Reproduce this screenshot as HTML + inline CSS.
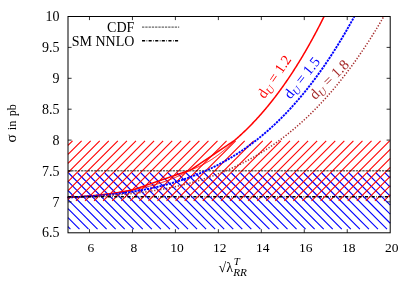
<!DOCTYPE html>
<html><head><meta charset="utf-8"><title>plot</title>
<style>
html,body{margin:0;padding:0;background:#fff;}
svg{display:block;}
text{font-family:"Liberation Serif",serif;font-size:14px;fill:#000;}
</style></head><body>
<svg width="415" height="291" viewBox="0 0 415 291">
<rect width="415" height="291" fill="#fff"/>
<!-- hatches -->
<path d="M68.00,226.67 L70.43,229.10 M68.00,217.62 L79.47,229.10 M68.00,208.58 L88.52,229.10 M68.00,199.53 L97.56,229.10 M68.00,190.49 L106.61,229.10 M68.00,181.44 L115.65,229.10 M68.60,173.00 L124.70,229.10 M77.64,173.00 L133.75,229.10 M86.69,173.00 L142.79,229.10 M95.73,173.00 L151.83,229.10 M104.78,173.00 L160.88,229.10 M113.82,173.00 L169.92,229.10 M122.87,173.00 L178.97,229.10 M131.91,173.00 L188.01,229.10 M140.96,173.00 L197.06,229.10 M150.00,173.00 L206.10,229.10 M159.05,173.00 L215.15,229.10 M168.09,173.00 L224.19,229.10 M177.14,173.00 L233.24,229.10 M186.19,173.00 L242.28,229.10 M195.23,173.00 L251.33,229.10 M204.28,173.00 L260.38,229.10 M213.32,173.00 L269.42,229.10 M222.36,173.00 L278.46,229.10 M231.41,173.00 L287.51,229.10 M240.45,173.00 L296.55,229.10 M249.50,173.00 L305.60,229.10 M258.54,173.00 L314.64,229.10 M267.59,173.00 L323.69,229.10 M276.63,173.00 L332.74,229.10 M285.68,173.00 L341.78,229.10 M294.73,173.00 L350.82,229.10 M303.77,173.00 L359.87,229.10 M312.81,173.00 L368.91,229.10 M321.86,173.00 L377.96,229.10 M330.90,173.00 L387.00,229.10 M339.95,173.00 L390.20,223.25 M349.00,173.00 L390.20,214.21 M358.04,173.00 L390.20,205.16 M367.09,173.00 L390.20,196.11 M376.13,173.00 L390.20,187.07 M385.17,173.00 L390.20,178.03" stroke="#0000ff" stroke-width="1.1" fill="none"/>
<path d="M68.00,145.34 L72.54,140.80 M68.00,154.40 L81.60,140.80 M68.00,163.46 L90.66,140.80 M68.00,172.52 L99.72,140.80 M68.00,181.58 L108.78,140.80 M68.00,190.64 L117.84,140.80 M68.00,199.70 L126.90,140.80 M75.96,200.80 L135.96,140.80 M85.02,200.80 L145.02,140.80 M94.08,200.80 L154.08,140.80 M103.14,200.80 L163.14,140.80 M112.20,200.80 L172.20,140.80 M121.26,200.80 L181.26,140.80 M130.32,200.80 L190.32,140.80 M139.38,200.80 L199.38,140.80 M148.44,200.80 L208.44,140.80 M157.50,200.80 L217.50,140.80 M166.56,200.80 L226.56,140.80 M175.62,200.80 L235.62,140.80 M184.68,200.80 L244.68,140.80 M193.74,200.80 L253.74,140.80 M202.80,200.80 L262.80,140.80 M211.86,200.80 L271.86,140.80 M220.92,200.80 L280.92,140.80 M229.98,200.80 L289.98,140.80 M239.04,200.80 L299.04,140.80 M248.10,200.80 L308.10,140.80 M257.16,200.80 L317.16,140.80 M266.22,200.80 L326.22,140.80 M275.28,200.80 L335.28,140.80 M284.34,200.80 L344.34,140.80 M293.40,200.80 L353.40,140.80 M302.46,200.80 L362.46,140.80 M311.52,200.80 L371.52,140.80 M320.58,200.80 L380.58,140.80 M329.64,200.80 L389.64,140.80 M338.70,200.80 L390.20,149.30 M347.76,200.80 L390.20,158.36 M356.82,200.80 L390.20,167.42 M365.88,200.80 L390.20,176.48 M374.94,200.80 L390.20,185.54 M384.00,200.80 L390.20,194.60" stroke="#ff0000" stroke-width="1.1" fill="none"/>
<!-- reference lines -->
<path d="M68.0,170.7 H390.2" stroke="#000" stroke-width="1.4" stroke-dasharray="2.35,0.92" opacity="0.6" fill="none"/>
<!-- curves -->
<path d="M67.50,197.38 L68.00,197.36 L68.50,197.34 L69.00,197.31 L69.50,197.29 L70.00,197.26 L70.50,197.24 L71.00,197.21 L71.50,197.18 L72.00,197.16 L72.50,197.13 L73.00,197.10 L73.50,197.07 L74.00,197.04 L74.50,197.02 L75.00,196.99 L75.50,196.96 L76.00,196.93 L76.50,196.90 L77.00,196.87 L77.50,196.84 L78.00,196.80 L78.50,196.77 L79.00,196.74 L79.50,196.71 L80.00,196.67 L80.50,196.64 L81.00,196.60 L81.50,196.57 L82.00,196.54 L82.50,196.50 L83.00,196.46 L83.50,196.43 L84.00,196.39 L84.50,196.35 L85.00,196.31 L85.50,196.28 L86.00,196.24 L86.50,196.20 L87.00,196.16 L87.50,196.12 L88.00,196.08 L88.50,196.03 L89.00,195.99 L89.50,195.95 L90.00,195.91 L90.50,195.86 L91.00,195.82 L91.50,195.78 L92.00,195.73 L92.50,195.68 L93.00,195.64 L93.50,195.59 L94.00,195.54 L94.50,195.50 L95.00,195.45 L95.50,195.40 L96.00,195.35 L96.50,195.30 L97.00,195.25 L97.50,195.20 L98.00,195.15 L98.50,195.09 L99.00,195.04 L99.50,194.99 L100.00,194.93 L100.50,194.88 L101.00,194.82 L101.50,194.77 L102.00,194.71 L102.50,194.65 L103.00,194.59 L103.50,194.54 L104.00,194.48 L104.50,194.42 L105.00,194.36 L105.50,194.30 L106.00,194.23 L106.50,194.17 L107.00,194.11 L107.50,194.04 L108.00,193.98 L108.50,193.91 L109.00,193.85 L109.50,193.78 L110.00,193.71 L110.50,193.65 L111.00,193.58 L111.50,193.51 L112.00,193.44 L112.50,193.37 L113.00,193.30 L113.50,193.22 L114.00,193.15 L114.50,193.08 L115.00,193.00 L115.50,192.93 L116.00,192.85 L116.50,192.77 L117.00,192.70 L117.50,192.62 L118.00,192.54 L118.50,192.46 L119.00,192.38 L119.50,192.30 L120.00,192.22 L120.50,192.13 L121.00,192.05 L121.50,191.96 L122.00,191.88 L122.50,191.79 L123.00,191.71 L123.50,191.62 L124.00,191.53 L124.50,191.44 L125.00,191.35 L125.50,191.26 L126.00,191.17 L126.50,191.07 L127.00,190.98 L127.50,190.89 L128.00,190.79 L128.50,190.69 L129.00,190.60 L129.50,190.50 L130.00,190.40 L130.50,190.30 L131.00,190.20 L131.50,190.10 L132.00,189.99 L132.50,189.89 L133.00,189.78 L133.50,189.68 L134.00,189.59 L134.50,189.50 L135.00,189.41 L135.50,189.32 L136.00,189.22 L136.50,189.13 L137.00,189.03 L137.50,188.93 L138.00,188.83 L138.50,188.73 L139.00,188.63 L139.50,188.52 L140.00,188.42 L140.50,188.31 L141.00,188.21 L141.50,188.10 L142.00,187.99 L142.50,187.88 L143.00,187.77 L143.50,187.65 L144.00,187.54 L144.50,187.42 L145.00,187.30 L145.50,187.18 L146.00,187.06 L146.50,186.94 L147.00,186.82 L147.50,186.69 L148.00,186.57 L148.50,186.44 L149.00,186.31 L149.50,186.18 L150.00,186.05 L150.50,185.92 L151.00,185.79 L151.50,185.65 L152.00,185.51 L152.50,185.37 L153.00,185.23 L153.50,185.09 L154.00,184.95 L154.50,184.81 L155.00,184.66 L155.50,184.51 L156.00,184.36 L156.50,184.21 L157.00,184.06 L157.50,183.91 L158.00,183.75 L158.50,183.60 L159.00,183.44 L159.50,183.28 L160.00,183.12 L160.50,182.96 L161.00,182.79 L161.50,182.63 L162.00,182.46 L162.50,182.29 L163.00,182.12 L163.50,181.95 L164.00,181.78 L164.50,181.60 L165.00,181.42 L165.50,181.24 L166.00,181.06 L166.50,180.88 L167.00,180.70 L167.50,180.51 L168.00,180.33 L168.50,180.14 L169.00,179.95 L169.50,179.76 L170.00,179.56 L170.50,179.37 L171.00,179.17 L171.50,178.97 L172.00,178.77 L172.50,178.57 L173.00,178.36 L173.50,178.16 L174.00,177.95 L174.50,177.74 L175.00,177.53 L175.50,177.31 L176.00,177.10 L176.50,176.88 L177.00,176.66 L177.50,176.44 L178.00,176.22 L178.50,175.99 L179.00,175.77 L179.50,175.54 L180.00,175.31 L180.50,175.08 L181.00,174.85 L181.50,174.61 L182.00,174.37 L182.50,174.13 L183.00,173.89 L183.50,173.65 L184.00,173.40 L184.50,173.15 L185.00,172.91 L185.50,172.65 L186.00,172.40 L186.50,172.14 L187.00,171.89 L187.50,171.63 L188.00,171.37 L188.50,171.10 L189.00,170.84 L189.50,170.57 L190.00,170.30 L190.50,170.03 L191.00,169.81 L191.50,169.63 L192.00,169.44 L192.50,169.26 L193.00,169.06 L193.50,168.87 L194.00,168.67 L194.50,168.47 L195.00,168.26 L195.50,168.06 L196.00,167.84 L196.50,167.63 L197.00,167.41 L197.50,167.19 L198.00,166.96 L198.50,166.74 L199.00,166.50 L199.50,166.27 L200.00,166.03 L200.50,165.79 L201.00,165.54 L201.50,165.30 L202.00,165.04 L202.50,164.79 L203.00,164.53 L203.50,164.26 L204.00,164.00 L204.50,163.73 L205.00,163.46 L205.50,163.18 L206.00,162.90 L206.50,162.61 L207.00,162.32 L207.50,162.03 L208.00,161.74 L208.50,161.44 L209.00,161.14 L209.50,160.83 L210.00,160.52 L210.50,160.21 L211.00,159.89 L211.50,159.57 L212.00,159.24 L212.50,158.91 L213.00,158.58 L213.50,158.24 L214.00,157.90 L214.50,157.56 L215.00,157.21 L215.50,156.86 L216.00,156.50 L216.50,156.15 L217.00,155.78 L217.50,155.41 L218.00,155.04 L218.50,154.67 L219.00,154.29 L219.50,153.90 L220.00,153.52 L220.50,153.12 L221.00,152.73 L221.50,152.33 L222.00,151.93 L222.50,151.52 L223.00,151.11 L223.50,150.69 L224.00,150.27 L224.50,149.84 L225.00,149.42 L225.50,148.98 L226.00,148.55 L226.50,148.11 L227.00,147.66 L227.50,147.21 L228.00,146.76 L228.50,146.30 L229.00,145.83 L229.50,145.37 L230.00,144.90 L230.50,144.42 L231.00,143.94 L231.50,143.46 L232.00,142.97 L232.50,142.47 L233.00,141.98 L233.50,141.47 L234.00,140.97 L234.50,140.46" stroke="#ff0000" stroke-width="1.0" fill="none"/>
<path d="M67.50,197.38 L68.00,197.36 L68.50,197.34 L69.00,197.31 L69.50,197.29 L70.00,197.26 L70.50,197.24 L71.00,197.21 L71.50,197.18 L72.00,197.16 L72.50,197.13 L73.00,197.10 L73.50,197.07 L74.00,197.04 L74.50,197.02 L75.00,196.99 L75.50,196.96 L76.00,196.93 L76.50,196.90 L77.00,196.87 L77.50,196.84 L78.00,196.80 L78.50,196.77 L79.00,196.74 L79.50,196.71 L80.00,196.67 L80.50,196.64 L81.00,196.60 L81.50,196.57 L82.00,196.54 L82.50,196.50 L83.00,196.46 L83.50,196.43 L84.00,196.39 L84.50,196.35 L85.00,196.31 L85.50,196.28 L86.00,196.24 L86.50,196.20 L87.00,196.16 L87.50,196.12 L88.00,196.08 L88.50,196.03 L89.00,195.99 L89.50,195.95 L90.00,195.91 L90.50,195.86 L91.00,195.82 L91.50,195.78 L92.00,195.73 L92.50,195.68 L93.00,195.64 L93.50,195.59 L94.00,195.54 L94.50,195.50 L95.00,195.45 L95.50,195.40 L96.00,195.35 L96.50,195.30 L97.00,195.25 L97.50,195.20 L98.00,195.15 L98.50,195.09 L99.00,195.04 L99.50,194.99 L100.00,194.93 L100.50,194.88 L101.00,194.82 L101.50,194.77 L102.00,194.71 L102.50,194.65 L103.00,194.59 L103.50,194.54 L104.00,194.48 L104.50,194.42 L105.00,194.36 L105.50,194.30 L106.00,194.23 L106.50,194.17 L107.00,194.11 L107.50,194.04 L108.00,193.98 L108.50,193.91 L109.00,193.85 L109.50,193.78 L110.00,193.71 L110.50,193.65 L111.00,193.58 L111.50,193.51 L112.00,193.44 L112.50,193.37 L113.00,193.30 L113.50,193.22 L114.00,193.15 L114.50,193.08 L115.00,193.00 L115.50,192.93 L116.00,192.85 L116.50,192.77 L117.00,192.70 L117.50,192.62 L118.00,192.54 L118.50,192.46 L119.00,192.38 L119.50,192.30 L120.00,192.22 L120.50,192.13 L121.00,192.05 L121.50,191.96 L122.00,191.88 L122.50,191.79 L123.00,191.71 L123.50,191.62 L124.00,191.53 L124.50,191.44 L125.00,191.35 L125.50,191.26 L126.00,191.17 L126.50,191.07 L127.00,190.98 L127.50,190.89 L128.00,190.79 L128.50,190.69 L129.00,190.60 L129.50,190.50 L130.00,190.40 L130.50,190.30 L131.00,190.20 L131.50,190.10 L132.00,189.99 L132.50,189.89 L133.00,189.78 L133.50,189.67 L134.00,189.49 L134.50,189.32 L135.00,189.15 L135.50,188.98 L136.00,188.80 L136.50,188.63 L137.00,188.46 L137.50,188.29 L138.00,188.11 L138.50,187.94 L139.00,187.77 L139.50,187.59 L140.00,187.42 L140.50,187.25 L141.00,187.08 L141.50,186.90 L142.00,186.73 L142.50,186.56 L143.00,186.39 L143.50,186.21 L144.00,186.04 L144.50,185.87 L145.00,185.70 L145.50,185.52 L146.00,185.35 L146.50,185.18 L147.00,185.01 L147.50,184.83 L148.00,184.66 L148.50,184.49 L149.00,184.32 L149.50,184.14 L150.00,183.97 L150.50,183.80 L151.00,183.62 L151.50,183.45 L152.00,183.28 L152.50,183.11 L153.00,182.93 L153.50,182.76 L154.00,182.59 L154.50,182.42 L155.00,182.24 L155.50,182.07 L156.00,181.90 L156.50,181.73 L157.00,181.55 L157.50,181.38 L158.00,181.21 L158.50,181.04 L159.00,180.86 L159.50,180.69 L160.00,180.52 L160.50,180.35 L161.00,180.17 L161.50,180.00 L162.00,179.83 L162.50,179.65 L163.00,179.48 L163.50,179.31 L164.00,179.14 L164.50,178.96 L165.00,178.79 L165.50,178.62 L166.00,178.45 L166.50,178.27 L167.00,178.10 L167.50,177.93 L168.00,177.76 L168.50,177.58 L169.00,177.41 L169.50,177.24 L170.00,177.07 L170.50,176.89 L171.00,176.72 L171.50,176.55 L172.00,176.38 L172.50,176.20 L173.00,176.03 L173.50,175.86 L174.00,175.68 L174.50,175.51 L175.00,175.34 L175.50,175.17 L176.00,174.99 L176.50,174.82 L177.00,174.65 L177.50,174.48 L178.00,174.30 L178.50,174.13 L179.00,173.96 L179.50,173.79 L180.00,173.61 L180.50,173.44 L181.00,173.27 L181.50,173.10 L182.00,172.92 L182.50,172.75 L183.00,172.58 L183.50,172.41 L184.00,172.23 L184.50,172.06 L185.00,171.89 L185.50,171.71 L186.00,171.54 L186.50,171.37 L187.00,171.20 L187.50,171.02 L188.00,170.85 L188.50,170.68 L189.00,170.51 L189.50,170.33 L190.00,170.16 L190.50,169.99 L191.00,169.72 L191.50,169.38 L192.00,169.05 L192.50,168.71 L193.00,168.37 L193.50,168.04 L194.00,167.70 L194.50,167.36 L195.00,167.03 L195.50,166.69 L196.00,166.35 L196.50,166.02 L197.00,165.68 L197.50,165.35 L198.00,165.01 L198.50,164.67 L199.00,164.34 L199.50,164.00 L200.00,163.66 L200.50,163.33 L201.00,162.99 L201.50,162.65 L202.00,162.32 L202.50,161.98 L203.00,161.65 L203.50,161.31 L204.00,160.97 L204.50,160.64 L205.00,160.30 L205.50,159.96 L206.00,159.63 L206.50,159.29 L207.00,158.96 L207.50,158.62 L208.00,158.28 L208.50,157.95 L209.00,157.61 L209.50,157.27 L210.00,156.94 L210.50,156.60 L211.00,156.26 L211.50,155.93 L212.00,155.59 L212.50,155.26 L213.00,154.92 L213.50,154.58 L214.00,154.25 L214.50,153.91 L215.00,153.57 L215.50,153.24 L216.00,152.90 L216.50,152.57 L217.00,152.23 L217.50,151.89 L218.00,151.56 L218.50,151.22 L219.00,150.88 L219.50,150.55 L220.00,150.21 L220.50,149.87 L221.00,149.54 L221.50,149.20 L222.00,148.87 L222.50,148.53 L223.00,148.19 L223.50,147.86 L224.00,147.52 L224.50,147.18 L225.00,146.85 L225.50,146.51 L226.00,146.17 L226.50,145.84 L227.00,145.50 L227.50,145.17 L228.00,144.83 L228.50,144.49 L229.00,144.16 L229.50,143.82 L230.00,143.48 L230.50,143.15 L231.00,142.81 L231.50,142.48 L232.00,142.14 L232.50,141.80 L233.00,141.47 L233.50,141.13 L234.00,140.79 L234.50,140.46 L235.00,140.03 L235.50,139.59 L236.00,139.16 L236.50,138.72 L237.00,138.28 L237.50,137.84 L238.00,137.39 L238.50,136.94 L239.00,136.49 L239.50,136.04 L240.00,135.59 L240.50,135.13 L241.00,134.67 L241.50,134.21 L242.00,133.74 L242.50,133.28 L243.00,132.81 L243.50,132.33 L244.00,131.86 L244.50,131.38 L245.00,130.90 L245.50,130.42 L246.00,129.93 L246.50,129.45 L247.00,128.96 L247.50,128.46 L248.00,127.97 L248.50,127.47 L249.00,126.97 L249.50,126.47 L250.00,125.96 L250.50,125.45 L251.00,124.94 L251.50,124.43 L252.00,123.91 L252.50,123.39 L253.00,122.87 L253.50,122.34 L254.00,121.82 L254.50,121.29 L255.00,120.75 L255.50,120.22 L256.00,119.68 L256.50,119.14 L257.00,118.60 L257.50,118.05 L258.00,117.50 L258.50,116.95 L259.00,116.39 L259.50,115.84 L260.00,115.27 L260.50,114.71 L261.00,114.14 L261.50,113.58 L262.00,113.00 L262.50,112.43 L263.00,111.85 L263.50,111.27 L264.00,110.69 L264.50,110.10 L265.00,109.51 L265.50,108.92 L266.00,108.32 L266.50,107.73 L267.00,107.12 L267.50,106.52 L268.00,105.91 L268.50,105.30 L269.00,104.69 L269.50,104.07 L270.00,103.46 L270.50,102.83 L271.00,102.21 L271.50,101.58 L272.00,100.95 L272.50,100.31 L273.00,99.68 L273.50,99.04 L274.00,98.39 L274.50,97.75 L275.00,97.10 L275.50,96.44 L276.00,95.79 L276.50,95.13 L277.00,94.47 L277.50,93.80 L278.00,93.13 L278.50,92.46 L279.00,91.78 L279.50,91.11 L280.00,90.43 L280.50,89.74 L281.00,89.05 L281.50,88.36 L282.00,87.67 L282.50,86.97 L283.00,86.27 L283.50,85.56 L284.00,84.86 L284.50,84.15 L285.00,83.43 L285.50,82.71 L286.00,81.99 L286.50,81.27 L287.00,80.54 L287.50,79.81 L288.00,79.08 L288.50,78.34 L289.00,77.60 L289.50,76.85 L290.00,76.11 L290.50,75.35 L291.00,74.60 L291.50,73.84 L292.00,73.08 L292.50,72.31 L293.00,71.55 L293.50,70.77 L294.00,70.00 L294.50,69.22 L295.00,68.44 L295.50,67.65 L296.00,66.86 L296.50,66.07 L297.00,65.27 L297.50,64.47 L298.00,63.67 L298.50,62.86 L299.00,62.05 L299.50,61.23 L300.00,60.41 L300.50,59.59 L301.00,58.77 L301.50,57.94 L302.00,57.10 L302.50,56.27 L303.00,55.43 L303.50,54.58 L304.00,53.73 L304.50,52.88 L305.00,52.03 L305.50,51.17 L306.00,50.30 L306.50,49.44 L307.00,48.57 L307.50,47.69 L308.00,46.81 L308.50,45.93 L309.00,45.05 L309.50,44.16 L310.00,43.26 L310.50,42.37 L311.00,41.47 L311.50,40.56 L312.00,39.65 L312.50,38.74 L313.00,37.82 L313.50,36.90 L314.00,35.98 L314.50,35.05 L315.00,34.12 L315.50,33.18 L316.00,32.24 L316.50,31.29 L317.00,30.35 L317.50,29.39 L318.00,28.44 L318.50,27.48 L319.00,26.51 L319.50,25.54 L320.00,24.57 L320.50,23.59 L321.00,22.61 L321.50,21.63 L322.00,20.64 L322.50,19.65 L323.00,18.65 L323.50,17.65 L324.00,16.64 L324.07,16.50" stroke="#ff0000" stroke-width="1.5" fill="none"/>
<path d="M67.50,197.43 L68.04,197.41 L68.58,197.39 L69.12,197.37 L69.65,197.35 L70.19,197.33 L70.73,197.30 L71.27,197.28 L71.81,197.26 L72.34,197.23 L72.88,197.21 L73.42,197.19 L73.96,197.16 L74.50,197.14 L75.04,197.11 L75.58,197.08 L76.11,197.06 L76.65,197.03 L77.19,197.01 L77.73,196.98 L78.27,196.95 L78.81,196.92 L79.34,196.90 L79.88,196.87 L80.42,196.84 L80.96,196.81 L81.50,196.78 L82.03,196.75 L82.57,196.72 L83.11,196.69 L83.65,196.66 L84.19,196.63 L84.73,196.59 L85.27,196.56 L85.80,196.53 L86.34,196.49 L86.88,196.46 L87.42,196.43 L87.96,196.39 L88.49,196.36 L89.03,196.32 L89.57,196.29 L90.11,196.25 L90.65,196.21 L91.19,196.18 L91.72,196.14 L92.26,196.10 L92.80,196.06 L93.34,196.02 L93.88,195.98 L94.42,195.94 L94.96,195.90 L95.49,195.86 L96.03,195.82 L96.57,195.78 L97.11,195.74 L97.65,195.69 L98.19,195.65 L98.72,195.61 L99.26,195.56 L99.80,195.52 L100.34,195.47 L100.88,195.43 L101.42,195.38 L101.95,195.33 L102.49,195.28 L103.03,195.24 L103.57,195.19 L104.11,195.14 L104.64,195.09 L105.18,195.04 L105.72,194.99 L106.26,194.94 L106.80,194.89 L107.34,194.83 L107.88,194.78 L108.41,194.73 L108.95,194.67 L109.49,194.62 L110.03,194.56 L110.57,194.51 L111.11,194.45 L111.64,194.39 L112.18,194.34 L112.72,194.28 L113.26,194.22 L113.80,194.16 L114.34,194.10 L114.87,194.04 L115.41,193.98 L115.95,193.91 L116.49,193.85 L117.03,193.79 L117.56,193.72 L118.10,193.66 L118.64,193.59 L119.18,193.53 L119.72,193.46 L120.26,193.40 L120.79,193.33 L121.33,193.26 L121.87,193.19 L122.41,193.12 L122.95,193.05 L123.49,192.98 L124.03,192.91 L124.56,192.83 L125.10,192.76 L125.64,192.68 L126.18,192.61 L126.72,192.53 L127.26,192.46 L127.79,192.38 L128.33,192.30 L128.87,192.22 L129.41,192.15 L129.95,192.07 L130.49,191.98 L131.02,191.90 L131.56,191.82 L132.10,191.74 L132.64,191.65 L133.18,191.57 L133.71,191.48 L134.25,191.40 L134.79,191.31 L135.33,191.22 L135.87,191.13 L136.41,191.04 L136.94,190.95 L137.48,190.86 L138.02,190.77 L138.56,190.68 L139.10,190.58 L139.64,190.49 L140.18,190.40 L140.71,190.30 L141.25,190.20 L141.79,190.10 L142.33,190.01 L142.87,189.91 L143.41,189.81 L143.94,189.70 L144.48,189.60 L145.02,189.50 L145.56,189.40 L146.10,189.29 L146.64,189.18 L147.17,189.08 L147.71,188.97 L148.25,188.86 L148.79,188.75 L149.33,188.64 L149.86,188.53 L150.40,188.42 L150.94,188.30 L151.48,188.19 L152.02,188.08 L152.56,187.96 L153.09,187.84 L153.63,187.72 L154.17,187.61 L154.71,187.49 L155.25,187.36 L155.79,187.24 L156.32,187.12 L156.86,187.00 L157.40,186.87 L157.94,186.74 L158.48,186.62 L159.02,186.49 L159.56,186.36 L160.09,186.23 L160.63,186.10 L161.17,185.97 L161.71,185.83 L162.25,185.70 L162.79,185.56 L163.32,185.43 L163.86,185.29 L164.40,185.15 L164.94,185.01 L165.48,184.87 L166.01,184.73 L166.55,184.59 L167.09,184.44 L167.63,184.30 L168.17,184.15 L168.71,184.00 L169.25,183.85 L169.78,183.70 L170.32,183.55 L170.86,183.40 L171.40,183.25 L171.94,183.09 L172.48,182.94 L173.01,182.78 L173.55,182.62 L174.09,182.46 L174.63,182.30 L175.17,182.14 L175.71,181.98 L176.24,181.81 L176.78,181.65 L177.32,181.48 L177.86,181.31 L178.40,181.15 L178.94,180.97 L179.47,180.80 L180.01,180.63 L180.55,180.46 L181.09,180.28 L181.63,180.10 L182.16,179.93 L182.70,179.75 L183.24,179.57 L183.78,179.39 L184.32,179.20 L184.86,179.02 L185.40,178.83 L185.93,178.65 L186.47,178.46 L187.01,178.27 L187.55,178.08 L188.09,177.88 L188.62,177.69 L189.16,177.50 L189.70,177.30 L190.24,177.10 L190.78,176.90 L191.32,176.70 L191.86,176.50 L192.39,176.30 L192.93,176.09 L193.47,175.89 L194.01,175.68 L194.55,175.47 L195.09,175.26 L195.62,175.05 L196.16,174.83 L196.70,174.62 L197.24,174.40 L197.78,174.18 L198.31,173.97 L198.85,173.74 L199.39,173.52 L199.93,173.30 L200.47,173.07 L201.01,172.85 L201.55,172.62 L202.08,172.39 L202.62,172.16 L203.16,171.92 L203.70,171.69 L204.24,171.45 L204.78,171.22 L205.31,170.98 L205.85,170.74 L206.39,170.49 L206.93,170.25 L207.47,170.01 L208.00,169.76 L208.54,169.51 L209.08,169.26 L209.62,169.01 L210.16,168.75 L210.70,168.50 L211.24,168.24 L211.77,167.98 L212.31,167.72 L212.85,167.46 L213.39,167.20 L213.93,166.93 L214.46,166.67 L215.00,166.40 L215.54,166.13 L216.08,165.86 L216.62,165.58 L217.16,165.31 L217.70,165.03 L218.23,164.75 L218.77,164.47 L219.31,164.19 L219.85,163.91 L220.39,163.62 L220.92,163.33 L221.46,163.04 L222.00,162.75 L222.54,162.46 L223.08,162.17 L223.62,161.87 L224.16,161.57 L224.69,161.27 L225.23,160.97 L225.77,160.67 L226.31,160.36 L226.85,160.05 L227.39,159.74 L227.92,159.43 L228.46,159.12 L229.00,158.81 L229.54,158.49 L230.08,158.17 L230.62,157.85 L231.15,157.53 L231.69,157.20 L232.23,156.88 L232.77,156.55 L233.31,156.22 L233.85,155.89 L234.38,155.55 L234.92,155.22 L235.46,154.88 L236.00,154.54 L236.54,154.20 L237.08,153.85 L237.61,153.51 L238.15,153.16 L238.69,152.81 L239.23,152.46 L239.77,152.10 L240.31,151.75 L240.84,151.39 L241.38,151.03 L241.92,150.67 L242.46,150.30 L243.00,149.94 L243.54,149.57 L244.07,149.20 L244.61,148.82 L245.15,148.45 L245.69,148.07 L246.23,147.69 L246.77,147.31 L247.30,146.93 L247.84,146.54 L248.38,146.16 L248.92,145.77 L249.46,145.37 L249.99,144.98 L250.53,144.58 L251.07,144.18 L251.61,143.78 L252.15,143.38 L252.69,142.98 L253.22,142.57 L253.76,142.16 L254.30,141.75 L254.84,141.33 L255.38,140.92 L255.92,140.50 L256.46,140.08 L256.99,139.65 L257.53,139.23 L258.07,138.80 L258.61,138.37 L259.15,137.94 L259.69,137.50 L260.22,137.06 L260.76,136.63 L261.30,136.18 L261.84,135.74 L262.38,135.29 L262.92,134.84 L263.45,134.39 L263.99,133.94 L264.53,133.48 L265.07,133.02 L265.61,132.56 L266.14,132.10 L266.68,131.63 L267.22,131.16 L267.76,130.69 L268.30,130.22 L268.84,129.74 L269.38,129.27 L269.91,128.78 L270.45,128.30 L270.99,127.82 L271.53,127.33 L272.07,126.84 L272.61,126.34 L273.14,125.85 L273.68,125.35 L274.22,124.85 L274.76,124.34 L275.30,123.84 L275.84,123.33 L276.37,122.82 L276.91,122.30 L277.45,121.79 L277.99,121.27 L278.53,120.75 L279.06,120.22 L279.60,119.69 L280.14,119.16 L280.68,118.63 L281.22,118.10 L281.76,117.56 L282.30,117.02 L282.83,116.47 L283.37,115.93 L283.91,115.38 L284.45,114.83 L284.99,114.27 L285.52,113.72 L286.06,113.16 L286.60,112.59 L287.14,112.03 L287.68,111.46 L288.22,110.89 L288.75,110.32 L289.29,109.74 L289.83,109.16 L290.37,108.58 L290.91,107.99 L291.45,107.41 L291.99,106.82 L292.52,106.22 L293.06,105.63 L293.60,105.03 L294.14,104.42 L294.68,103.82 L295.22,103.21 L295.75,102.60 L296.29,101.99 L296.83,101.37 L297.37,100.75 L297.91,100.13 L298.45,99.50 L298.98,98.87 L299.52,98.24 L300.06,97.60 L300.60,96.97 L301.14,96.33 L301.67,95.68 L302.21,95.04 L302.75,94.39 L303.29,93.73 L303.83,93.08 L304.37,92.42 L304.90,91.76 L305.44,91.09 L305.98,90.42 L306.52,89.75 L307.06,89.08 L307.60,88.40 L308.13,87.72 L308.67,87.03 L309.21,86.35 L309.75,85.65 L310.29,84.96 L310.83,84.26 L311.37,83.56 L311.90,82.86 L312.44,82.15 L312.98,81.44 L313.52,80.73 L314.06,80.02 L314.60,79.30 L315.13,78.57 L315.67,77.85 L316.21,77.12 L316.75,76.39 L317.29,75.65 L317.83,74.91 L318.36,74.17 L318.90,73.42 L319.44,72.67 L319.98,71.92 L320.52,71.16 L321.05,70.40 L321.59,69.64 L322.13,68.87 L322.67,68.10 L323.21,67.33 L323.75,66.56 L324.29,65.78 L324.82,64.99 L325.36,64.20 L325.90,63.41 L326.44,62.62 L326.98,61.82 L327.52,61.02 L328.05,60.22 L328.59,59.41 L329.13,58.60 L329.67,57.78 L330.21,56.96 L330.75,56.14 L331.28,55.32 L331.82,54.49 L332.36,53.65 L332.90,52.82 L333.44,51.98 L333.97,51.13 L334.51,50.29 L335.05,49.44 L335.59,48.58 L336.13,47.72 L336.67,46.86 L337.20,45.99 L337.74,45.13 L338.28,44.25 L338.82,43.38 L339.36,42.49 L339.90,41.61 L340.44,40.72 L340.97,39.83 L341.51,38.93 L342.05,38.03 L342.59,37.13 L343.13,36.22 L343.67,35.31 L344.20,34.40 L344.74,33.48 L345.28,32.56 L345.82,31.63 L346.36,30.70 L346.90,29.77 L347.43,28.83 L347.97,27.89 L348.51,26.94 L349.05,25.99 L349.59,25.04 L350.12,24.08 L350.66,23.12 L351.20,22.15 L351.74,21.18 L352.28,20.21 L352.82,19.23 L353.35,18.25 L353.89,17.26 L354.31,16.50" stroke="#0000ff" stroke-width="1.9" stroke-dasharray="2.25,0.95" fill="none"/>
<path d="M67.50,197.41 L68.04,197.40 L68.58,197.39 L69.12,197.37 L69.65,197.36 L70.19,197.35 L70.73,197.33 L71.27,197.32 L71.81,197.30 L72.34,197.29 L72.88,197.27 L73.42,197.26 L73.96,197.24 L74.50,197.23 L75.04,197.21 L75.58,197.20 L76.11,197.18 L76.65,197.16 L77.19,197.15 L77.73,197.13 L78.27,197.11 L78.81,197.09 L79.34,197.08 L79.88,197.06 L80.42,197.04 L80.96,197.02 L81.50,197.00 L82.03,196.98 L82.57,196.96 L83.11,196.94 L83.65,196.92 L84.19,196.90 L84.73,196.88 L85.27,196.86 L85.80,196.84 L86.34,196.82 L86.88,196.80 L87.42,196.77 L87.96,196.75 L88.49,196.73 L89.03,196.70 L89.57,196.68 L90.11,196.66 L90.65,196.63 L91.19,196.61 L91.72,196.58 L92.26,196.56 L92.80,196.53 L93.34,196.51 L93.88,196.48 L94.42,196.45 L94.96,196.43 L95.49,196.40 L96.03,196.37 L96.57,196.34 L97.11,196.32 L97.65,196.29 L98.19,196.26 L98.72,196.23 L99.26,196.20 L99.80,196.17 L100.34,196.14 L100.88,196.11 L101.42,196.08 L101.95,196.04 L102.49,196.01 L103.03,195.98 L103.57,195.95 L104.11,195.91 L104.64,195.88 L105.18,195.85 L105.72,195.81 L106.26,195.78 L106.80,195.74 L107.34,195.71 L107.88,195.67 L108.41,195.63 L108.95,195.60 L109.49,195.56 L110.03,195.52 L110.57,195.48 L111.11,195.44 L111.64,195.40 L112.18,195.37 L112.72,195.32 L113.26,195.28 L113.80,195.24 L114.34,195.20 L114.87,195.16 L115.41,195.12 L115.95,195.07 L116.49,195.03 L117.03,194.99 L117.56,194.94 L118.10,194.90 L118.64,194.85 L119.18,194.81 L119.72,194.76 L120.26,194.71 L120.79,194.67 L121.33,194.62 L121.87,194.57 L122.41,194.52 L122.95,194.47 L123.49,194.42 L124.03,194.37 L124.56,194.32 L125.10,194.27 L125.64,194.22 L126.18,194.17 L126.72,194.11 L127.26,194.06 L127.79,194.01 L128.33,193.95 L128.87,193.90 L129.41,193.84 L129.95,193.78 L130.49,193.73 L131.02,193.67 L131.56,193.61 L132.10,193.55 L132.64,193.49 L133.18,193.43 L133.71,193.37 L134.25,193.31 L134.79,193.25 L135.33,193.19 L135.87,193.13 L136.41,193.06 L136.94,193.00 L137.48,192.94 L138.02,192.87 L138.56,192.80 L139.10,192.74 L139.64,192.67 L140.18,192.60 L140.71,192.54 L141.25,192.47 L141.79,192.40 L142.33,192.33 L142.87,192.26 L143.41,192.18 L143.94,192.11 L144.48,192.04 L145.02,191.97 L145.56,191.89 L146.10,191.82 L146.64,191.74 L147.17,191.66 L147.71,191.59 L148.25,191.51 L148.79,191.43 L149.33,191.35 L149.86,191.27 L150.40,191.19 L150.94,191.11 L151.48,191.03 L152.02,190.95 L152.56,190.86 L153.09,190.78 L153.63,190.70 L154.17,190.61 L154.71,190.52 L155.25,190.44 L155.79,190.35 L156.32,190.26 L156.86,190.17 L157.40,190.08 L157.94,189.99 L158.48,189.90 L159.02,189.81 L159.56,189.71 L160.09,189.62 L160.63,189.52 L161.17,189.43 L161.71,189.33 L162.25,189.24 L162.79,189.14 L163.32,189.04 L163.86,188.94 L164.40,188.84 L164.94,188.74 L165.48,188.64 L166.01,188.53 L166.55,188.43 L167.09,188.33 L167.63,188.22 L168.17,188.11 L168.71,188.01 L169.25,187.90 L169.78,187.79 L170.32,187.68 L170.86,187.57 L171.40,187.46 L171.94,187.35 L172.48,187.23 L173.01,187.12 L173.55,187.00 L174.09,186.89 L174.63,186.77 L175.17,186.65 L175.71,186.54 L176.24,186.42 L176.78,186.30 L177.32,186.17 L177.86,186.05 L178.40,185.93 L178.94,185.81 L179.47,185.68 L180.01,185.55 L180.55,185.43 L181.09,185.30 L181.63,185.17 L182.16,185.04 L182.70,184.91 L183.24,184.78 L183.78,184.65 L184.32,184.51 L184.86,184.38 L185.40,184.24 L185.93,184.10 L186.47,183.97 L187.01,183.83 L187.55,183.69 L188.09,183.55 L188.62,183.41 L189.16,183.26 L189.70,183.12 L190.24,182.97 L190.78,182.83 L191.32,182.68 L191.86,182.53 L192.39,182.38 L192.93,182.23 L193.47,182.08 L194.01,181.93 L194.55,181.78 L195.09,181.62 L195.62,181.47 L196.16,181.31 L196.70,181.15 L197.24,180.99 L197.78,180.83 L198.31,180.67 L198.85,180.51 L199.39,180.34 L199.93,180.18 L200.47,180.01 L201.01,179.85 L201.55,179.68 L202.08,179.51 L202.62,179.34 L203.16,179.17 L203.70,179.00 L204.24,178.82 L204.78,178.65 L205.31,178.47 L205.85,178.29 L206.39,178.11 L206.93,177.93 L207.47,177.75 L208.00,177.57 L208.54,177.39 L209.08,177.20 L209.62,177.02 L210.16,176.83 L210.70,176.64 L211.24,176.45 L211.77,176.26 L212.31,176.07 L212.85,175.88 L213.39,175.68 L213.93,175.49 L214.46,175.29 L215.00,175.09 L215.54,174.89 L216.08,174.69 L216.62,174.49 L217.16,174.28 L217.70,174.08 L218.23,173.87 L218.77,173.66 L219.31,173.45 L219.85,173.24 L220.39,173.03 L220.92,172.82 L221.46,172.61 L222.00,172.39 L222.54,172.17 L223.08,171.95 L223.62,171.73 L224.16,171.51 L224.69,171.29 L225.23,171.07 L225.77,170.84 L226.31,170.62 L226.85,170.39 L227.39,170.16 L227.92,169.93 L228.46,169.69 L229.00,169.46 L229.54,169.23 L230.08,168.99 L230.62,168.75 L231.15,168.51 L231.69,168.27 L232.23,168.03 L232.77,167.78 L233.31,167.54 L233.85,167.29 L234.38,167.04 L234.92,166.79 L235.46,166.54 L236.00,166.29 L236.54,166.03 L237.08,165.78 L237.61,165.52 L238.15,165.26 L238.69,165.00 L239.23,164.74 L239.77,164.48 L240.31,164.21 L240.84,163.94 L241.38,163.68 L241.92,163.41 L242.46,163.13 L243.00,162.86 L243.54,162.59 L244.07,162.31 L244.61,162.03 L245.15,161.75 L245.69,161.47 L246.23,161.19 L246.77,160.91 L247.30,160.62 L247.84,160.33 L248.38,160.04 L248.92,159.75 L249.46,159.46 L249.99,159.17 L250.53,158.87 L251.07,158.57 L251.61,158.27 L252.15,157.97 L252.69,157.67 L253.22,157.37 L253.76,157.06 L254.30,156.75 L254.84,156.44 L255.38,156.13 L255.92,155.82 L256.46,155.50 L256.99,155.19 L257.53,154.87 L258.07,154.55 L258.61,154.23 L259.15,153.90 L259.69,153.58 L260.22,153.25 L260.76,152.92 L261.30,152.59 L261.84,152.26 L262.38,151.93 L262.92,151.59 L263.45,151.25 L263.99,150.91 L264.53,150.57 L265.07,150.23 L265.61,149.88 L266.14,149.54 L266.68,149.19 L267.22,148.84 L267.76,148.48 L268.30,148.13 L268.84,147.77 L269.38,147.42 L269.91,147.06 L270.45,146.69 L270.99,146.33 L271.53,145.96 L272.07,145.60 L272.61,145.23 L273.14,144.85 L273.68,144.48 L274.22,144.10 L274.76,143.73 L275.30,143.35 L275.84,142.97 L276.37,142.58 L276.91,142.20 L277.45,141.81 L277.99,141.42 L278.53,141.03 L279.06,140.63 L279.60,140.24 L280.14,139.84 L280.68,139.44 L281.22,139.04 L281.76,138.64 L282.30,138.23 L282.83,137.82 L283.37,137.41 L283.91,137.00 L284.45,136.59 L284.99,136.17 L285.52,135.75 L286.06,135.33 L286.60,134.91 L287.14,134.49 L287.68,134.06 L288.22,133.63 L288.75,133.20 L289.29,132.77 L289.83,132.33 L290.37,131.89 L290.91,131.45 L291.45,131.01 L291.99,130.57 L292.52,130.12 L293.06,129.67 L293.60,129.22 L294.14,128.77 L294.68,128.31 L295.22,127.86 L295.75,127.40 L296.29,126.94 L296.83,126.47 L297.37,126.01 L297.91,125.54 L298.45,125.07 L298.98,124.59 L299.52,124.12 L300.06,123.64 L300.60,123.16 L301.14,122.68 L301.67,122.19 L302.21,121.71 L302.75,121.22 L303.29,120.73 L303.83,120.23 L304.37,119.74 L304.90,119.24 L305.44,118.74 L305.98,118.23 L306.52,117.73 L307.06,117.22 L307.60,116.71 L308.13,116.19 L308.67,115.68 L309.21,115.16 L309.75,114.64 L310.29,114.12 L310.83,113.59 L311.37,113.07 L311.90,112.54 L312.44,112.00 L312.98,111.47 L313.52,110.93 L314.06,110.39 L314.60,109.85 L315.13,109.30 L315.67,108.76 L316.21,108.21 L316.75,107.65 L317.29,107.10 L317.83,106.54 L318.36,105.98 L318.90,105.42 L319.44,104.85 L319.98,104.29 L320.52,103.72 L321.05,103.14 L321.59,102.57 L322.13,101.99 L322.67,101.41 L323.21,100.83 L323.75,100.24 L324.29,99.65 L324.82,99.06 L325.36,98.47 L325.90,97.87 L326.44,97.27 L326.98,96.67 L327.52,96.06 L328.05,95.46 L328.59,94.85 L329.13,94.23 L329.67,93.62 L330.21,93.00 L330.75,92.38 L331.28,91.76 L331.82,91.13 L332.36,90.50 L332.90,89.87 L333.44,89.23 L333.97,88.60 L334.51,87.96 L335.05,87.31 L335.59,86.67 L336.13,86.02 L336.67,85.37 L337.20,84.71 L337.74,84.06 L338.28,83.40 L338.82,82.73 L339.36,82.07 L339.90,81.40 L340.44,80.73 L340.97,80.06 L341.51,79.38 L342.05,78.70 L342.59,78.02 L343.13,77.33 L343.67,76.64 L344.20,75.95 L344.74,75.25 L345.28,74.56 L345.82,73.86 L346.36,73.15 L346.90,72.45 L347.43,71.74 L347.97,71.02 L348.51,70.31 L349.05,69.59 L349.59,68.87 L350.12,68.14 L350.66,67.42 L351.20,66.69 L351.74,65.95 L352.28,65.22 L352.82,64.48 L353.35,63.73 L353.89,62.99 L354.43,62.24 L354.97,61.49 L355.51,60.73 L356.05,59.97 L356.58,59.21 L357.12,58.45 L357.66,57.68 L358.20,56.91 L358.74,56.14 L359.28,55.36 L359.82,54.58 L360.35,53.79 L360.89,53.01 L361.43,52.22 L361.97,51.42 L362.51,50.63 L363.05,49.83 L363.58,49.03 L364.12,48.22 L364.66,47.41 L365.20,46.60 L365.74,45.78 L366.28,44.96 L366.81,44.14 L367.35,43.32 L367.89,42.49 L368.43,41.65 L368.97,40.82 L369.50,39.98 L370.04,39.14 L370.58,38.29 L371.12,37.44 L371.66,36.59 L372.20,35.73 L372.74,34.87 L373.27,34.01 L373.81,33.15 L374.35,32.28 L374.89,31.40 L375.43,30.53 L375.97,29.65 L376.50,28.77 L377.04,27.88 L377.58,26.99 L378.12,26.09 L378.66,25.20 L379.20,24.30 L379.73,23.39 L380.27,22.49 L380.81,21.57 L381.35,20.66 L381.89,19.74 L382.43,18.82 L382.96,17.90 L383.50,16.97 L383.77,16.50" stroke="#a52a2a" stroke-width="1.5" stroke-dasharray="1.3,1.7" fill="none"/>
<path d="M68.0,196.7 H390.2" stroke="#000" stroke-width="1.6" stroke-dasharray="3.1,1.5,0.6,1.4" fill="none"/>
<!-- axes -->
<rect x="68.0" y="16.5" width="322.2" height="216.3" fill="none" stroke="#000" stroke-width="1"/>
<path d="M89.48,232.80 v-3.60 M89.48,16.50 v3.60 M132.44,232.80 v-3.60 M132.44,16.50 v3.60 M175.40,232.80 v-3.60 M175.40,16.50 v3.60 M218.36,232.80 v-3.60 M218.36,16.50 v3.60 M261.32,232.80 v-3.60 M261.32,16.50 v3.60 M304.28,232.80 v-3.60 M304.28,16.50 v3.60 M347.24,232.80 v-3.60 M347.24,16.50 v3.60 M68.00,201.90 h3.60 M390.20,201.90 h-3.60 M68.00,171.00 h3.60 M390.20,171.00 h-3.60 M68.00,140.10 h3.60 M390.20,140.10 h-3.60 M68.00,109.20 h3.60 M390.20,109.20 h-3.60 M68.00,78.30 h3.60 M390.20,78.30 h-3.60 M68.00,47.40 h3.60 M390.20,47.40 h-3.60" stroke="#000" stroke-width="0.8" fill="none"/>
<g style="filter:opacity(0.999)">
<!-- tick labels -->
<g><text x="90.98" y="251.6" text-anchor="middle" style="font-size:13.5px">6</text><text x="133.94" y="251.6" text-anchor="middle" style="font-size:13.5px">8</text><text x="176.90" y="251.6" text-anchor="middle" style="font-size:13.5px">10</text><text x="219.86" y="251.6" text-anchor="middle" style="font-size:13.5px">12</text><text x="262.82" y="251.6" text-anchor="middle" style="font-size:13.5px">14</text><text x="305.78" y="251.6" text-anchor="middle" style="font-size:13.5px">16</text><text x="348.74" y="251.6" text-anchor="middle" style="font-size:13.5px">18</text><text x="391.70" y="251.6" text-anchor="middle" style="font-size:13.5px">20</text></g>
<g><text x="59.5" y="237.40" text-anchor="end">6.5</text><text x="59.5" y="206.50" text-anchor="end">7</text><text x="59.5" y="175.60" text-anchor="end">7.5</text><text x="59.5" y="144.70" text-anchor="end">8</text><text x="59.5" y="113.80" text-anchor="end">8.5</text><text x="59.5" y="82.90" text-anchor="end">9</text><text x="59.5" y="52.00" text-anchor="end">9.5</text><text x="59.5" y="21.10" text-anchor="end">10</text></g>
<!-- legend -->
<text x="134.3" y="31.6" text-anchor="end">CDF</text>
<text x="134.3" y="45.5" text-anchor="end">SM NNLO</text>
<path d="M142,27.1 H179.2" stroke="#000" stroke-width="1.4" stroke-dasharray="2.35,0.92" opacity="0.6" fill="none"/>
<path d="M142,40.8 H179.2" stroke="#000" stroke-width="1.6" stroke-dasharray="3.1,1.5,0.6,1.4" fill="none"/>
<!-- axis labels -->
<text transform="translate(15.7,142.6) rotate(-90)" style="font-size:12.2px;word-spacing:1.3px"><tspan style="font-size:15px">σ</tspan> in pb</text>
<text x="218.5" y="271.7">√λ<tspan style="font-size:10.8px;font-style:italic" dx="0.8" dy="-7.2">T</tspan><tspan style="font-size:11.3px;font-style:italic" dx="-6.6" dy="11.2">RR</tspan></text>
<!-- curve labels -->
<text transform="translate(264.5,99.3) rotate(-55.5)" style="fill:#ff0000;font-size:14.5px">d<tspan style="font-size:10.5px;font-style:italic" dy="3">U</tspan><tspan dy="-3"> = 1.2</tspan></text>
<text transform="translate(290.5,99.7) rotate(-51.4)" style="fill:#0000ff;font-size:14.5px">d<tspan style="font-size:10.5px;font-style:italic" dy="3">U</tspan><tspan dy="-3"> = 1.5</tspan></text>
<text transform="translate(315.3,100.2) rotate(-45.0)" style="fill:#a52a2a;font-size:14.7px">d<tspan style="font-size:10.5px;font-style:italic" dy="3">U</tspan><tspan dy="-3"> = 1.8</tspan></text>
</g>
</svg>
</body></html>
